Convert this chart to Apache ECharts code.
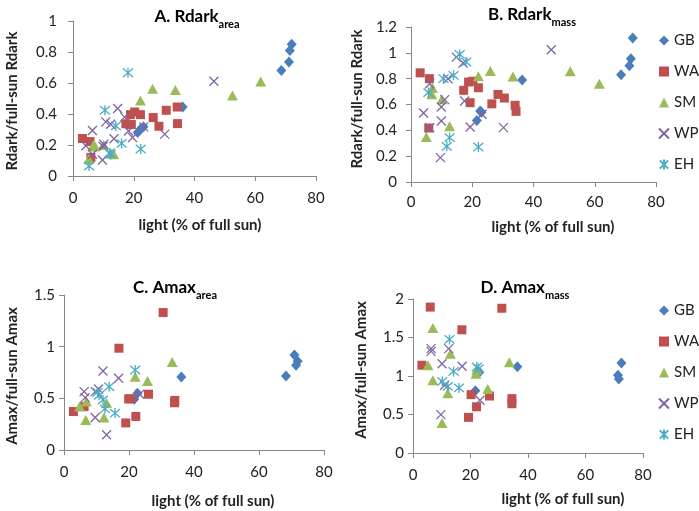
<!DOCTYPE html>
<html><head><meta charset="utf-8">
<script src="https://cdn.jsdelivr.net/npm/echarts@6/dist/echarts.min.js"></script>
<style>html,body{margin:0;padding:0;background:#fff}#c{width:699px;height:511px}</style>
</head><body><div id="c"></div>
<script>
// Series names
var groups = ['GB','WA','SM','WP','EH'];
// Panel A: Rdark_area  [light %, ratio]
var A_GB = [[72,0.85],[71.4,0.81],[71.1,0.735],[68.6,0.68],[36.1,0.445],[21.3,0.28],[22.3,0.305],[23.2,0.318]];
var A_WA = [[3.1,0.242],[5.6,0.222],[5.9,0.12],[17.4,0.337],[19.2,0.332],[18.9,0.396],[20.3,0.413],[22.2,0.396],[26.4,0.377],[28.3,0.321],[30.7,0.424],[34.3,0.445],[34.4,0.338]];
var A_SM = [[5.2,0.11],[6.9,0.205],[6.7,0.19],[10.1,0.2],[12.6,0.145],[13.4,0.14],[22.2,0.487],[26.2,0.563],[33.7,0.555],[52.5,0.519],[61.8,0.609]];
var A_WP = [[4.2,0.195],[6.4,0.294],[6.4,0.14],[9.7,0.103],[10.1,0.205],[9.9,0.19],[10.8,0.349],[12.4,0.334],[13.5,0.24],[14.7,0.435],[17.0,0.38],[18.3,0.29],[19.6,0.248],[23.3,0.317],[30.2,0.27],[46.4,0.611]];
var A_EH = [[5.3,0.064],[10.5,0.424],[12.4,0.139],[12.1,0.15],[14.1,0.323],[16.0,0.21],[18.1,0.666],[22.3,0.174]];
// Panel B: Rdark_mass
var B_GB = [[72.4,1.115],[71.8,0.955],[71.3,0.90],[68.6,0.83],[36.3,0.79],[21.5,0.477],[22.6,0.55],[23.0,0.54]];
var B_WA = [[3.0,0.845],[6.0,0.80],[5.8,0.418],[17.2,0.71],[18.8,0.774],[20.2,0.78],[19.3,0.614],[22.0,0.73],[26.4,0.605],[28.4,0.678],[30.5,0.65],[34.0,0.594],[34.3,0.547]];
var B_SM = [[5.0,0.348],[6.8,0.68],[7.0,0.728],[10.1,0.64],[12.6,0.432],[22.0,0.818],[25.9,0.86],[33.3,0.817],[52.0,0.858],[61.5,0.76]];
var B_WP = [[4.1,0.534],[6.1,0.76],[6.1,0.42],[9.6,0.189],[9.9,0.472],[9.9,0.58],[11.0,0.638],[12.1,0.80],[14.8,0.967],[17.0,0.921],[17.5,0.627],[19.3,0.426],[23.2,0.524],[30.2,0.421],[45.8,1.024]];
var B_EH = [[5.7,0.692],[10.6,0.80],[11.7,0.276],[12.6,0.344],[13.9,0.826],[15.9,0.988],[18.0,0.929],[22.0,0.271]];
// Panel C: Amax_area
var C_GB = [[70.9,0.92],[71.9,0.86],[71.4,0.82],[68.3,0.716],[36.1,0.707],[22.6,0.55],[21.6,0.49]];
var C_WA = [[2.9,0.372],[6.2,0.42],[16.9,0.985],[30.5,1.33],[19.0,0.262],[19.9,0.495],[20.5,0.495],[22.1,0.324],[26.0,0.54],[34.1,0.48],[34.0,0.457]];
var C_SM = [[4.8,0.42],[6.9,0.47],[6.7,0.29],[12.3,0.314],[13.1,0.455],[21.9,0.71],[25.7,0.668],[33.3,0.851]];
var C_WP = [[6.2,0.565],[6.5,0.507],[9.6,0.565],[10.6,0.59],[9.6,0.314],[12.0,0.765],[13.1,0.148],[16.8,0.694],[23.3,0.54]];
var C_EH = [[10.3,0.559],[10.8,0.53],[12.0,0.485],[12.6,0.398],[13.9,0.613],[15.7,0.357],[21.9,0.774]];
// Panel D: Amax_mass
var D_GB = [[72.5,1.17],[71.3,1.01],[71.6,0.96],[36.3,1.12],[23.1,1.05],[21.7,0.81]];
var D_WA = [[3.1,1.14],[6.0,1.895],[17.0,1.60],[30.9,1.88],[19.3,0.463],[20.2,0.758],[22.1,0.60],[26.6,0.74],[34.4,0.706],[34.4,0.64]];
var D_SM = [[5.2,1.14],[6.9,1.625],[6.9,0.944],[10.1,0.39],[13.0,1.29],[12.1,0.775],[21.9,1.03],[22.2,1.08],[26.0,0.83],[33.5,1.18]];
var D_WP = [[6.3,1.355],[6.3,1.32],[9.7,0.498],[10.1,1.16],[11.0,0.88],[12.4,1.356],[17.1,1.126],[23.3,0.684]];
var D_EH = [[10.2,0.93],[12.1,0.866],[12.7,1.475],[14.1,1.06],[16.0,0.845],[22.2,1.117],[22.8,1.096]];

var xTicks = [0,20,40,60,80];
var yMaxes = [1, 1.2, 1.5, 2];
var yIntervals = [0.2, 0.2, 0.5, 0.5];
var titleMain = ['A. Rdark','B. Rdark','C. Amax','D. Amax'];
var titleSub = ['area','mass','area','mass'];
var yNames = ['Rdark/full-sun Rdark','Rdark/full-sun Rdark','Amax/full-sun Amax','Amax/full-sun Amax'];
var xName = 'light (% of full sun)';

var panels = [
  [A_GB,A_WA,A_SM,A_WP,A_EH],
  [B_GB,B_WA,B_SM,B_WP,B_EH],
  [C_GB,C_WA,C_SM,C_WP,C_EH],
  [D_GB,D_WA,D_SM,D_WP,D_EH]
];

var FF = 'Lato, "Liberation Sans", sans-serif';
var colors = ['#4A7EBB','#C0504D','#9BBB59','#8064A2','#4BACC6'];
var symbols = ['diamond','rect','triangle','path://M0 0L10 10M10 0L0 10','path://M0 0L10 10M10 0L0 10M5 -1L5 11'];
var sizes = [[10,11],9,[11,10],9,10];

var grids = [
  {left:73, top:21, width:243, height:155},
  {left:411, top:27, width:245, height:155},
  {left:64, top:295, width:260, height:155},
  {left:413, top:299, width:230, height:154}
];
var titlePos = [[192,-2],[527,-4],[170,269],[520,269]];
var yLabelMargin = [16,14,9,9];
var xLabelMargin = [15,13,15,15];
var xNamePos = [[200,225],[553,227],[213,501],[563,499]];
var yNamePos = [[12,101],[357,99],[12,376],[361,370]];

var NAMEFONT = 'bold 15px ' + FF;
var graphics = [];
xNamePos.forEach(function(p){
  graphics.push({type:'text', x:p[0], y:p[1], silent:true,
    style:{text:xName, font:NAMEFONT, fill:'#222', align:'center', verticalAlign:'middle', textAlign:'center', textVerticalAlign:'middle'}});
});
yNamePos.forEach(function(p,i){
  graphics.push({type:'text', x:p[0], y:p[1], rotation:Math.PI/2, silent:true,
    style:{text:yNames[i], font:NAMEFONT, fill:'#222', align:'center', verticalAlign:'middle', textAlign:'center', textVerticalAlign:'middle'}});
});

var axisLine = {lineStyle:{color:'#868686',width:1}};
var option = {
  animation:false,
  backgroundColor:'#fff',
  title: titleMain.map(function(t,i){
    return {text:'{m|'+t+'}{s|'+titleSub[i]+'}', left:titlePos[i][0], top:titlePos[i][1], textAlign:'center',
      textStyle:{rich:{
        m:{fontSize:17,fontWeight:'bold',fontFamily:FF,color:'#000',verticalAlign:'bottom',lineHeight:22},
        s:{fontSize:11,fontWeight:'bold',fontFamily:FF,color:'#000',verticalAlign:'bottom',lineHeight:22,padding:[0,0,-5,0]}
      }}};
  }),
  grid: grids,
  graphic: graphics,
  xAxis: grids.map(function(g,i){
    return {gridIndex:i,type:'value',min:xTicks[0],max:xTicks[xTicks.length-1],interval:20,
      splitLine:{show:false},axisLine:axisLine,
      axisTick:{show:true,inside:false,length:5,lineStyle:{color:'#868686'}},
      axisLabel:{fontSize:15,fontFamily:FF,color:'#222',margin:xLabelMargin[i]}};
  }),
  yAxis: grids.map(function(g,i){
    return {gridIndex:i,type:'value',min:0,max:yMaxes[i],interval:yIntervals[i],
      splitLine:{show:false},axisLine:{show:true,lineStyle:{color:'#868686',width:1}},
      axisTick:{show:true,inside:false,length:5,lineStyle:{color:'#868686'}},
      axisLabel:{fontSize:15,fontFamily:FF,color:'#222',margin:yLabelMargin[i]}};
  }),
  legend: [
    {data:groups,orient:'vertical',left:658,top:33,padding:0,itemWidth:10,itemHeight:10,itemGap:16,
     textStyle:{fontSize:15,fontFamily:FF,color:'#222'}},
    {data:groups,orient:'vertical',left:658,top:303,padding:0,itemWidth:10,itemHeight:10,itemGap:16,
     textStyle:{fontSize:15,fontFamily:FF,color:'#222'}}
  ],
  series: []
};
panels.forEach(function(p,pi){
  p.forEach(function(data,si){
    var stroke = si>=3;
    option.series.push({
      type:'scatter',name:groups[si],xAxisIndex:pi,yAxisIndex:pi,data:data,
      symbol:symbols[si],symbolSize:sizes[si],
      itemStyle: stroke ? {color:'rgba(0,0,0,0)',borderColor:colors[si],borderWidth:1.3,opacity:1}
                        : {color:colors[si],opacity:1},
      emphasis:{disabled:true}
    });
  });
});
var chart = echarts.init(document.getElementById('c'),null,{renderer:'canvas'});
chart.setOption(option);
</script></body></html>
